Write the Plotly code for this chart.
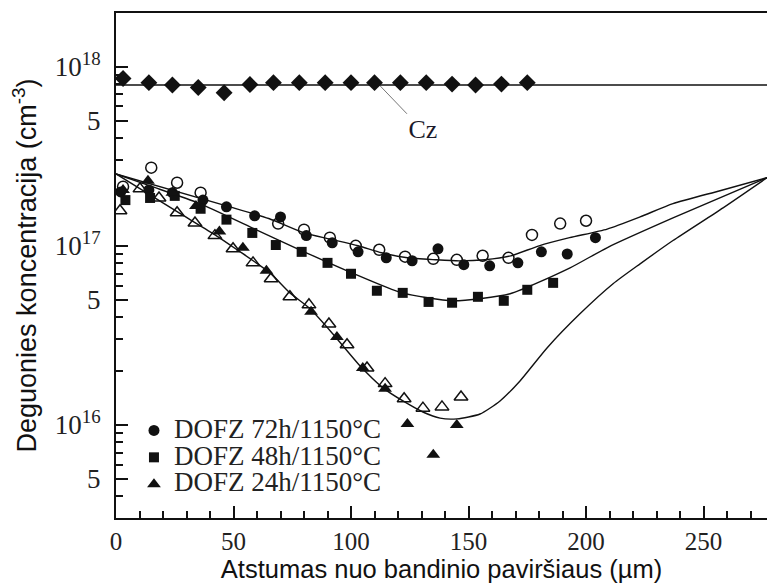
import plotly.graph_objects as go

# ---------------- data ----------------
cz_x = [3, 14, 24, 35, 46, 57, 67, 78, 89, 100, 110, 121, 132, 143, 153, 164, 175]
cz_y = [8.6e17, 8.15e17, 7.9e17, 7.65e17, 7.15e17, 7.95e17, 8.15e17, 8.15e17, 8.15e17,
        8.15e17, 8.15e17, 8.15e17, 8.15e17, 8.0e17, 7.9e17, 8.0e17, 8.15e17]
cz_level = 7.9e17
cz_xrange = [0, 277]

h72_x = [2, 14, 24, 37, 47, 59, 70, 81, 92, 103, 115, 126, 137, 148, 159, 171, 181, 192, 204]
h72_y = [2.0e17, 2.05e17, 1.98e17, 1.8e17, 1.65e17, 1.47e17, 1.45e17, 1.14e17, 1.04e17, 9.25e16,
         8.57e16, 8.25e16, 9.62e16, 7.84e16, 7.73e16, 8.03e16, 9.25e16, 9.0e16, 1.11e17]
h72o_x = [3, 15, 26, 36, 69, 80, 91, 102, 112, 123, 135, 145, 156, 167, 177, 189, 200]
h72o_y = [2.14e17, 2.73e17, 2.25e17, 1.98e17, 1.33e17, 1.23e17, 1.11e17, 1.0e17, 9.5e16, 8.7e16,
          8.46e16, 8.35e16, 8.8e16, 8.57e16, 1.15e17, 1.33e17, 1.38e17]

h48_x = [4, 14.5, 25, 36, 47, 58, 68, 79, 90, 100, 111, 122, 133, 143, 154, 165, 175, 186]
h48_y = [1.8e17, 1.85e17, 1.9e17, 1.61e17, 1.4e17, 1.18e17, 1.01e17, 9.25e16, 8.03e16, 6.98e16,
         5.61e16, 5.46e16, 4.86e16, 4.81e16, 5.19e16, 4.93e16, 5.68e16, 6.21e16]

h24_x = [3, 13.6, 24, 34, 44, 54, 64, 83, 94, 105, 114.5, 124, 135, 145]
h24_y = [2.05e17, 2.31e17, 1.98e17, 1.67e17, 1.2e17, 9.75e16, 7.25e16, 4.28e16, 3.1e16, 2.08e16,
         1.59e16, 1.01e16, 6.8e15, 1.0e16]
h24o_x = [1.7, 10.2, 18.3, 26, 33.6, 42.1, 49.8, 58.3, 66, 74, 82.1, 90.6, 98.3, 106.8, 114.5,
          122.6, 130.6, 138.7, 146.8]
h24o_y = [1.57e17, 2.08e17, 1.85e17, 1.53e17, 1.34e17, 1.14e17, 9.62e16, 8.03e16, 6.55e16, 5.19e16,
          4.68e16, 3.66e16, 2.8e16, 2.08e16, 1.7e16, 1.4e16, 1.24e16, 1.26e16, 1.43e16]

fit72_x = [0, 47, 65, 80, 91, 103, 113, 124, 136, 146, 157, 168, 180, 193, 209, 223, 237, 257, 277]
fit72_y = [2.52e17, 1.67e17, 1.42e17, 1.18e17, 1.09e17, 1.0e17, 9.14e16, 8.57e16, 8.36e16, 8.24e16,
           8.36e16, 8.79e16, 1.0e17, 1.11e17, 1.24e17, 1.45e17, 1.72e17, 2.03e17, 2.4e17]
fit48_x = [0, 14.5, 35.7, 57.9, 79.1, 100.4, 121.7, 143.4, 167.7, 193.2, 208.9, 237, 277]
fit48_y = [2.52e17, 2.16e17, 1.72e17, 1.26e17, 9.38e16, 7.06e16, 5.46e16, 4.93e16, 5.4e16,
           7.53e16, 9.75e16, 1.43e17, 2.4e17]
fit24_x = [0, 26, 41.3, 51.5, 65.5, 74, 82.6, 92.3, 103.8, 113.6, 122.1, 130.6, 137.9, 145.1,
           154.9, 163.4, 171.9, 183.4, 197.4, 211.5, 223, 237, 258.3, 277]
fit24_y = [2.52e17, 1.55e17, 1.17e17, 9.51e16, 7.06e16, 5.46e16, 4.45e16, 3.22e16, 2.14e16, 1.61e16,
           1.36e16, 1.18e16, 1.09e16, 1.08e16, 1.15e16, 1.36e16, 1.76e16, 2.69e16, 4.17e16, 6.14e16,
           7.93e16, 1.07e17, 1.63e17, 2.4e17]

cz_leader_x = [112.3, 123.8]
cz_leader_y = [7.84e17, 5.46e17]
cz_label_pos = (130.6, 4.34e17)

y_tickvals = [5e15, 1e16, 5e16, 1e17, 5e17, 1e18]
y_ticktext = ['5', '10<sup>16</sup>', '5', '10<sup>17</sup>', '5', '10<sup>18</sup>']
x_tickvals = [0, 50, 100, 150, 200, 250]
y_minor = [k * 10 ** d for d in (15, 16, 17, 18) for k in (2, 3, 4, 6, 7, 8, 9)]

legend_names = ['DOFZ 72h/1150°C', 'DOFZ 48h/1150°C', 'DOFZ 24h/1150°C']

# ---------------- figure ----------------
SERIF = 'Liberation Serif'
SANS = 'Liberation Sans'
BLK = '#111111'
fig = go.Figure()

line_style = dict(color=BLK, width=1.4)
for fx, fy in ((fit72_x, fit72_y), (fit48_x, fit48_y), (fit24_x, fit24_y)):
    fig.add_trace(go.Scatter(x=fx, y=fy, mode='lines', line=dict(**line_style, shape='spline', smoothing=0.6),
                             showlegend=False, hoverinfo='skip'))

fig.add_trace(go.Scatter(x=cz_xrange, y=[cz_level, cz_level], mode='lines', line=line_style,
                         showlegend=False, hoverinfo='skip'))
fig.add_trace(go.Scatter(x=cz_leader_x, y=cz_leader_y, mode='lines', line=dict(color='#777777', width=1),
                         showlegend=False, hoverinfo='skip'))
fig.add_trace(go.Scatter(x=[cz_label_pos[0]], y=[cz_label_pos[1]], mode='text', text=['Cz'],
                         textfont=dict(family=SERIF, size=26, color='#1a1a2a'), showlegend=False))

fig.add_trace(go.Scatter(x=cz_x, y=cz_y, mode='markers',
                         marker=dict(symbol='diamond', size=13, color=BLK), showlegend=False))

open_line = dict(color=BLK, width=1.5)
fig.add_trace(go.Scatter(x=h72o_x, y=h72o_y, mode='markers',
                         marker=dict(symbol='circle-open', size=11, line=open_line, color=BLK), showlegend=False))
fig.add_trace(go.Scatter(x=h24o_x, y=h24o_y, mode='markers',
                         marker=dict(symbol='triangle-up-open', size=12, line=open_line, color=BLK),
                         showlegend=False))

def big(name):
    return '<span style="font-size:27px">' + name + '</span>'

fig.add_trace(go.Scatter(x=h72_x, y=h72_y, mode='markers', name=big(legend_names[0]),
                         marker=dict(symbol='circle', size=11, color=BLK)))
fig.add_trace(go.Scatter(x=h48_x, y=h48_y, mode='markers', name=big(legend_names[1]),
                         marker=dict(symbol='square', size=10, color=BLK)))
fig.add_trace(go.Scatter(x=h24_x, y=h24_y, mode='markers', name=big(legend_names[2]),
                         marker=dict(symbol='triangle-up', size=12, color=BLK)))

fig.update_layout(
    width=767, height=583,
    margin=dict(l=116, r=0, t=13, b=65),
    plot_bgcolor='white', paper_bgcolor='white',
    legend=dict(x=0.0276, y=0.21, xanchor='left', yanchor='top', bgcolor='rgba(0,0,0,0)',
                font=dict(family=SERIF, size=18.4, color='#222222'), itemsizing='trace', tracegroupgap=0),
    xaxis=dict(range=[0, 277], tickvals=x_tickvals, ticks='inside', ticklen=12, tickwidth=1.5,
               tickcolor=BLK, showline=True, linewidth=2, linecolor=BLK, mirror=True, showgrid=False,
               zeroline=False, tickfont=dict(family=SERIF, size=25, color='#222222'),
               minor=dict(dtick=10, ticks='inside', ticklen=7, tickwidth=1.5, tickcolor=BLK),
               title=dict(text='\u00a0\u00a0\u00a0Atstumas nuo bandinio paviršiaus (µm)', standoff=6,
                          font=dict(family=SANS, size=25.5, color=BLK))),
    yaxis=dict(type='log', range=[15.48, 18.30], tickvals=y_tickvals, ticktext=y_ticktext,
               ticks='inside', ticklen=12, tickwidth=1.5, tickcolor=BLK, showline=True, linewidth=2,
               linecolor=BLK, mirror=False, showgrid=False, zeroline=False, ticklabelstandoff=8,
               tickfont=dict(family=SERIF, size=27, color='#222222'),
               minor=dict(tickvals=y_minor, ticks='inside', ticklen=7, tickwidth=1.5, tickcolor=BLK),
               title=dict(text='Deguonies koncentracija (cm<sup>-3</sup>)', standoff=10,
                          font=dict(family=SANS, size=27, color=BLK))),
)

fig.write_html('out.html')
